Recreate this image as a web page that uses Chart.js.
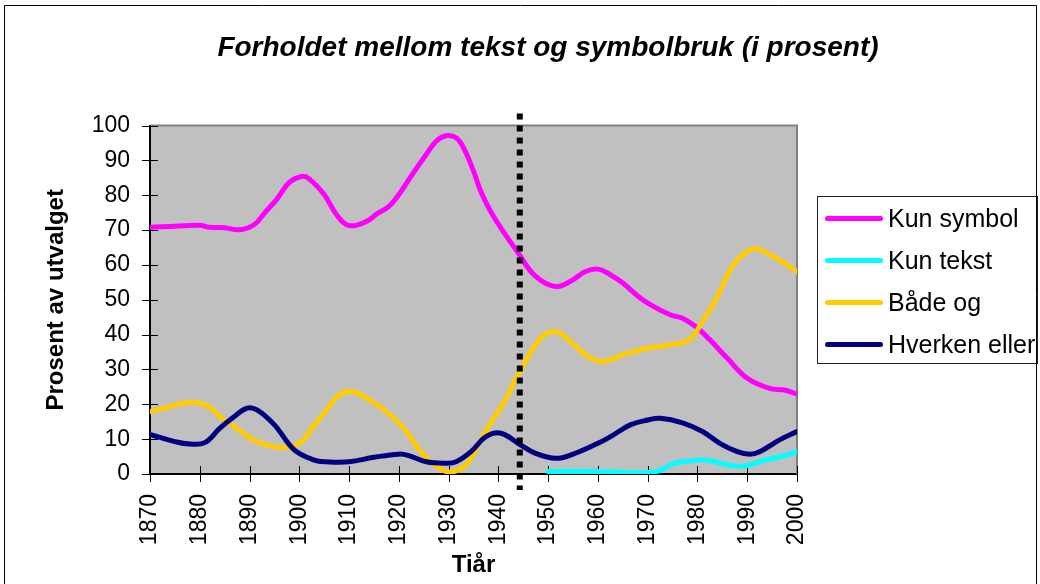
<!DOCTYPE html>
<html>
<head>
<meta charset="utf-8">
<script src="https://cdn.jsdelivr.net/npm/chart.js@4.4.1/dist/chart.umd.min.js"></script>
<style>
  body { margin: 0; background: #fff; }
  #wrap { position: relative; width: 1040px; height: 584px; }
  #legend { position: absolute; left: 817px; top: 196px; width: 219px; height: 166px;
            border: 1px solid #222; font: 25px "Liberation Sans", Arial, sans-serif; color: #000; }
  #legend .item { position: absolute; left: 7px; height: 30px; display: flex; align-items: center; white-space: nowrap; }
  #legend .swatch { width: 58px; height: 5px; border-radius: 3px; margin-right: 5px; }
</style>
</head>
<body>
<div id="wrap">
  <canvas id="chart" width="1040" height="584"></canvas>
  <div id="legend"></div>
</div>
<script>
// Kun symbol
const symbolYears  = [1870, 1875, 1880, 1882, 1885, 1888, 1891, 1893, 1895.5, 1898, 1900.5, 1902, 1905, 1907.5, 1910, 1913.5, 1915.5, 1918, 1920, 1922, 1925, 1927.5, 1929.5, 1931.5, 1933, 1935, 1936.5, 1939, 1944, 1947.5, 1951.5, 1954.5, 1957.5, 1960, 1962.5, 1965, 1968, 1970.5, 1974.5, 1977, 1980, 1982.5, 1986, 1990, 1994.5, 1997.5, 2000];
const symbolValues = [70.8, 71.1, 71.4, 70.8, 70.7, 70.1, 71.6, 74.9, 78.9, 83.7, 85.4, 84.7, 80.2, 74.4, 71.3, 72.5, 74.6, 76.8, 80.2, 84.5, 90.7, 95.5, 97.1, 96.5, 93.6, 87, 81, 74, 63.4, 56.7, 53.8, 55.3, 58.1, 58.8, 57.2, 54.8, 51.1, 48.6, 45.7, 44.7, 41.9, 38.5, 33.2, 27.5, 24.6, 24.1, 22.9];

// Kun tekst (kun fra 1950)
const textYears  = [1950, 1960, 1965, 1970, 1972.5, 1975, 1980, 1982.5, 1987, 1990, 1993, 1997.5, 2000];
const textValues = [0.7, 0.7, 0.4, 0.4, 1, 2.9, 4, 3.8, 2.4, 2.4, 3.8, 5.3, 6.4];

// Både og
const bothYears  = [1870, 1874, 1878, 1881.5, 1884.5, 1887.5, 1890.5, 1893.5, 1896, 1898, 1900.5, 1903, 1905.5, 1908, 1910.5, 1913, 1917.5, 1921, 1925, 1929.5, 1932.5, 1934.5, 1936.5, 1938, 1941, 1944.5, 1948.5, 1951.5, 1954.5, 1958, 1961, 1965, 1970, 1974.5, 1978.5, 1981, 1982.5, 1984.5, 1987, 1990, 1992, 1994, 1997.5, 2000];
const bothValues = [17.9, 19.3, 20.6, 19.5, 16, 13.1, 10, 8.3, 7.6, 7.7, 9.3, 14.1, 18.4, 22.7, 23.7, 22.2, 17.9, 13.1, 5.5, 0.7, 1.6, 4.5, 9.8, 13.6, 20.3, 29.9, 39, 40.9, 38, 33.7, 32.3, 34.2, 36.1, 37.1, 38.7, 43.8, 47.1, 52.4, 59.6, 63.9, 64.6, 63.4, 60.5, 58];

// Hverken eller
const noneYears  = [1870, 1875, 1878, 1881, 1884, 1886.5, 1889.5, 1891.5, 1895, 1899, 1903, 1905.5, 1910, 1915, 1920, 1922, 1925.5, 1929.5, 1931.5, 1934.5, 1937.5, 1940.5, 1944.5, 1947.5, 1951.5, 1955, 1960, 1962.5, 1966.5, 1970, 1972.5, 1977, 1981, 1984.5, 1988, 1990.5, 1992.5, 1996.5, 2000];
const noneValues = [11.4, 9.3, 8.6, 9, 13.1, 16, 18.9, 18.4, 14.1, 6.9, 4, 3.5, 3.5, 4.8, 5.7, 5.3, 3.5, 3.1, 3.5, 6.4, 10.7, 11.7, 8.3, 5.9, 4.5, 5.7, 8.8, 10.7, 14.1, 15.5, 16, 14.7, 12.2, 8.8, 6.4, 5.7, 6.4, 9.8, 12.2];

const dividerYear = 1944.3;   // stiplet skillelinje

const FONT = '"Liberation Sans", Arial, sans-serif';
const toPoints = (xs, ys) => xs.map((x, i) => ({ x, y: ys[i] }));

function line(label, xs, ys, color, order) {
  return {
    label, data: toPoints(xs, ys), borderColor: color, backgroundColor: color,
    borderWidth: 5, pointRadius: 0, tension: 0.4, order,
    borderCapStyle: "round", borderJoinStyle: "round"
  };
}

const decor = {
  id: "decor",
  beforeDraw(chart) {
    const { ctx, chartArea: a } = chart;
    ctx.save();
    ctx.fillStyle = "#fff";
    ctx.fillRect(0, 0, chart.width, chart.height);
    ctx.strokeStyle = "#000";
    ctx.lineWidth = 1;
    ctx.beginPath();
    ctx.moveTo(4.5, chart.height);
    ctx.lineTo(4.5, 5.5);
    ctx.lineTo(1036.5, 5.5);
    ctx.lineTo(1036.5, chart.height);
    ctx.stroke();
    ctx.fillStyle = "#c0c0c0";
    ctx.fillRect(a.left, a.top, a.right - a.left, a.bottom - a.top);
    ctx.restore();
  },
  beforeDatasetsDraw(chart) {
    const { ctx, chartArea: a, scales: { x, y } } = chart;
    ctx.save();
    ctx.strokeStyle = "#808080";
    ctx.lineWidth = 2;
    ctx.beginPath();
    ctx.moveTo(a.left, a.top);
    ctx.lineTo(a.right, a.top);
    ctx.lineTo(a.right, a.bottom);
    ctx.stroke();
    // kryssende tick-merker
    ctx.strokeStyle = "#000";
    ctx.lineWidth = 1;
    ctx.beginPath();
    y.ticks.forEach(t => {
      const py = Math.round(y.getPixelForValue(t.value)) + 0.5;
      ctx.moveTo(a.left - 8, py); ctx.lineTo(a.left + 8, py);
    });
    x.ticks.forEach(t => {
      const px = Math.round(x.getPixelForValue(t.value)) + 0.5;
      ctx.moveTo(px, a.bottom - 8); ctx.lineTo(px, a.bottom + 8);
    });
    ctx.stroke();
    ctx.restore();
  },
  afterDatasetsDraw(chart) {
    const { ctx, chartArea: a, scales: { x } } = chart;
    const dx = x.getPixelForValue(dividerYear);
    ctx.save();
    ctx.strokeStyle = "#000";
    ctx.lineWidth = 6;
    ctx.setLineDash([6, 6]);
    ctx.beginPath();
    ctx.moveTo(dx, a.top - 12);
    ctx.lineTo(dx, a.bottom + 16);
    ctx.stroke();
    ctx.restore();
  }
};

const chart = new Chart(document.getElementById("chart").getContext("2d"), {
  type: "line",
  data: {
    datasets: [
      line("Kun symbol",    symbolYears, symbolValues, "#ff00ff", 3),
      line("Kun tekst",     textYears,   textValues,   "#00ffff", 2),
      line("Både og",       bothYears,   bothValues,   "#ffcc00", 1),
      line("Hverken eller", noneYears,   noneValues,   "#000080", 0)
    ]
  },
  options: {
    responsive: false,
    animation: false,
    parsing: false,
    events: [],
    layout: { padding: { left: 56, right: 0, top: 0, bottom: 0 } },
    plugins: {
      legend: { display: false },
      tooltip: { enabled: false },
      title: {
        display: true,
        text: "Forholdet mellom tekst og symbolbruk (i prosent)",
        color: "#000",
        font: { family: FONT, size: 28, weight: "bold", style: "italic", lineHeight: 1.2 },
        padding: { top: 31, bottom: 61 }
      }
    },
    scales: {
      x: {
        type: "linear", min: 1870, max: 2000,
        grid: { display: false, drawTicks: false },
        border: { color: "#000", width: 2 },
        ticks: {
          stepSize: 10, autoSkip: false, maxRotation: 90, minRotation: 90, padding: 20,
          color: "#000", font: { family: FONT, size: 23 },
          callback: v => String(v)
        },
        title: { display: true, text: "Tiår", color: "#000",
                 font: { family: FONT, size: 24, weight: "bold" }, padding: { top: 0, bottom: 4 } },
        afterFit(s) { s.height = 110; }
      },
      y: {
        min: 0, max: 100,
        grid: { display: false, drawTicks: false },
        border: { color: "#000", width: 2 },
        ticks: { stepSize: 10, padding: 20, color: "#000", font: { family: FONT, size: 23 } },
        title: { display: true, text: "Prosent av utvalget", color: "#000",
                 font: { family: FONT, size: 24, weight: "bold", lineHeight: 1 }, padding: { top: -12, bottom: 0 } },
        afterFit(s) { s.width = 94; }
      },
      side: {
        position: "right", display: true,
        grid: { display: false }, border: { display: false }, ticks: { display: false },
        afterFit(s) { s.width = 243; }
      }
    }
  },
  plugins: [decor]
});

// forklaring
const legend = document.getElementById("legend");
chart.data.datasets.forEach((ds, i) => {
  const item = document.createElement("div");
  item.className = "item";
  item.style.top = (6 + i * 42) + "px";
  const sw = document.createElement("span");
  sw.className = "swatch";
  sw.style.background = ds.borderColor;
  item.appendChild(sw);
  item.appendChild(document.createTextNode(ds.label));
  legend.appendChild(item);
});
</script>
</body>
</html>
